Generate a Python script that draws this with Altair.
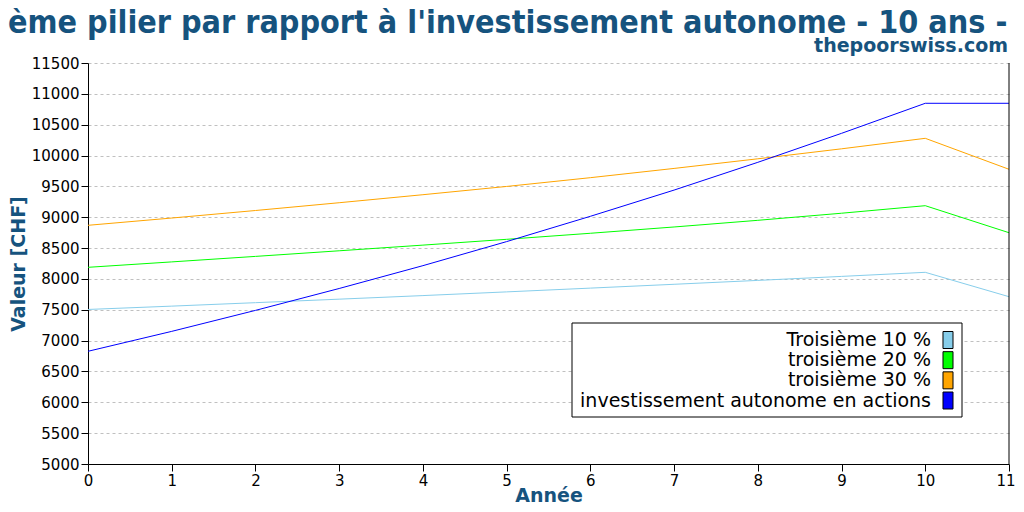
import altair as alt
import pandas as pd

# ---- data ----
years = list(range(12))
troisieme_10 = [7505, 7559, 7615, 7672, 7730, 7790, 7851, 7913, 7976, 8041, 8107, 7712]
troisieme_20 = [8188, 8276, 8365, 8456, 8548, 8642, 8740, 8842, 8950, 9065, 9187, 8749]
troisieme_30 = [8869, 8987, 9109, 9235, 9365, 9499, 9641, 9791, 9947, 10109, 10279, 9777]
autonome = [6827, 7150, 7490, 7845, 8215, 8605, 9015, 9440, 9890, 10360, 10847, 10847]

series_names = ["Troisième 10 %", "troisième 20 %", "troisième 30 %",
                "investissement autonome en actions"]
series_colors = ["#87CEEB", "#00FF00", "#FFA500", "#0000FF"]
y_ticks = list(range(5000, 11501, 500))

TITLE = "Troisième pilier par rapport à l'investissement autonome - 10 ans - net"
SITE = "thepoorswiss.com"

FONT = "DejaVu Sans"
BLUE = "#16537e"

rows = []
for name, vals in zip(series_names, [troisieme_10, troisieme_20, troisieme_30, autonome]):
    for yr, v in zip(years, vals):
        rows.append({"annee": yr, "valeur": v, "serie": name})
df = pd.DataFrame(rows)

color_scale = alt.Scale(domain=series_names, range=series_colors)

lines = alt.Chart(df).mark_line(strokeWidth=1).encode(
    x=alt.X("annee:Q", scale=alt.Scale(domain=[0, 11], nice=False),
            axis=alt.Axis(values=years, title="Année", format="d", grid=False,
                          labelFlush=False, labelOverlap=False, titlePadding=-2,
                          labelAlign=alt.expr("datum.value == 11 ? 'right' : 'center'"),
                          labelOffset=alt.expr("datum.value == 11 ? 6 : 0"))),
    y=alt.Y("valeur:Q", scale=alt.Scale(domain=[5000, 11500], nice=False, zero=False),
            axis=alt.Axis(values=y_ticks, title="Valeur [CHF]", format="d", grid=True,
                          gridDash=[3, 3], gridColor="#c0c0c0", labelFlush=False,
                          labelOverlap=False, titlePadding=3)),
    color=alt.Color("serie:N", scale=color_scale, legend=None),
)

frame = alt.Chart(pd.DataFrame({"annee": [11]})).mark_rule(color="black", strokeWidth=1).encode(
    x="annee:Q"
)

legend_box = alt.Chart(pd.DataFrame({"k": [0]})).mark_rect(
    fill="white", stroke="black", strokeWidth=1
).encode(x=alt.value(484), x2=alt.value(874), y=alt.value(260), y2=alt.value(354))

legend_df = pd.DataFrame({"serie": series_names})
legend_y = alt.Y("serie:N", scale=alt.Scale(type="point", domain=series_names,
                                             range=[277, 337.5], padding=0), axis=None)

legend_text = alt.Chart(legend_df).mark_text(
    align="right", baseline="middle", fontSize=19, font=FONT, color="black"
).encode(x=alt.value(843), y=legend_y, text="serie:N")

swatch_path = "M-0.59,-1 L0.59,-1 L0.59,1 L-0.59,1 Z"
legend_swatch = alt.Chart(legend_df).mark_point(
    filled=True, shape=swatch_path, size=289, stroke="black", strokeWidth=1, opacity=1
).encode(x=alt.value(860), y=legend_y,
         color=alt.Color("serie:N", scale=color_scale, legend=None))

title_text = alt.Chart(pd.DataFrame({"t": [TITLE]})).mark_text(
    align="left", baseline="alphabetic", fontSize=32, fontWeight="bold",
    font="DejaVu Sans Condensed", color=BLUE
).encode(x=alt.value(-167), y=alt.value(-30), text="t:N")

site_text = alt.Chart(pd.DataFrame({"t": [SITE]})).mark_text(
    align="right", baseline="alphabetic", fontSize=19, fontWeight="bold",
    font=FONT, color=BLUE
).encode(x=alt.value(920), y=alt.value(-11.5), text="t:N")

chart = alt.layer(
    lines, frame, legend_box, legend_text, legend_swatch, title_text, site_text
).resolve_scale(y="independent").properties(
    width=921, height=401,
    padding={"left": 80, "top": 55, "right": 7, "bottom": 40},
    autosize=alt.AutoSizeParams(type="none"),
    background="white",
).configure_view(stroke=None).configure_axis(
    labelFont=FONT, titleFont=FONT, labelFontSize=15, labelColor="black",
    tickColor="black", domainColor="black", tickSize=7, labelPadding=2,
    titleFontSize=19, titleColor=BLUE, titleFontWeight="bold",
)

chart.save("out.html", embed_options={"renderer": "svg", "actions": False})
